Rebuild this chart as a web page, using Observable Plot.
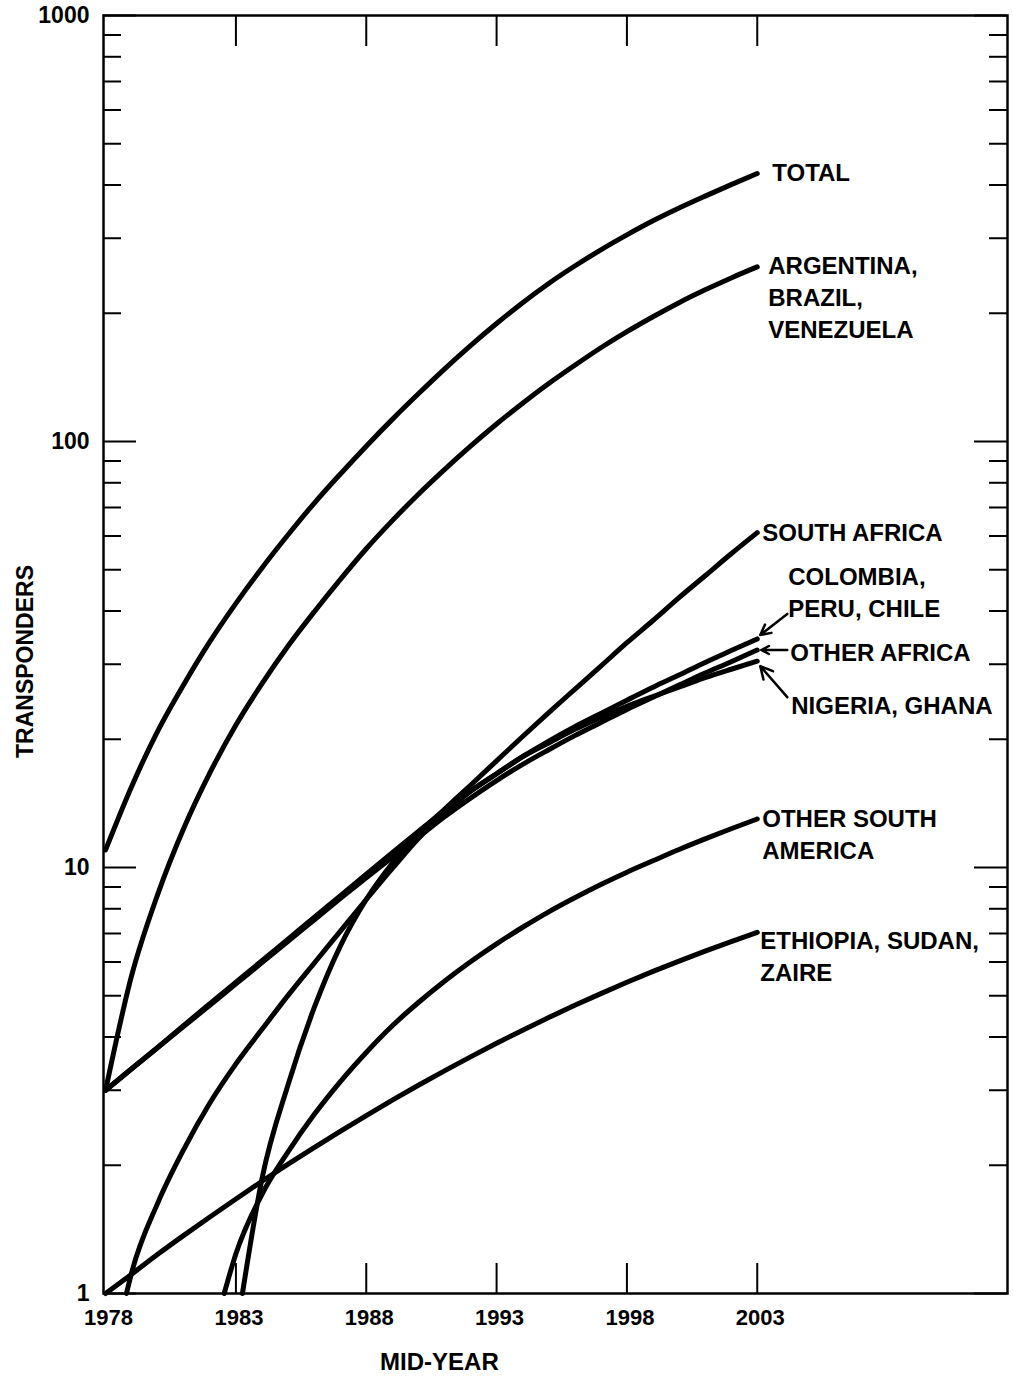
<!DOCTYPE html>
<html>
<head>
<meta charset="utf-8">
<script src="https://cdn.jsdelivr.net/npm/d3@7"></script>
<script src="https://cdn.jsdelivr.net/npm/@observablehq/plot@0.6"></script>
<style>
  body { margin: 0; background: #fff; }
  #chart svg { display: block; }
</style>
</head>
<body>
<div id="chart"></div>
<script>
// ---------------- DATA ----------------
const years = [1978, 1979, 1980, 1981, 1982, 1983, 1984, 1985, 1986, 1987, 1988, 1989, 1990,
               1991, 1992, 1993, 1994, 1995, 1996, 1997, 1998, 1999, 2000, 2001, 2002, 2003];

const total      = [11.0, 15.5, 20.9, 26.9, 33.9, 41.7, 50.5, 60.4, 71.6, 83.8, 97.5, 112.7, 129.4,
                    147.9, 167.9, 189.2, 211.8, 235.0, 258.2, 281.8, 305.5, 329.6, 353.2, 376.7, 400.9, 425.6];
const argBraVen  = [3.0, 5.58, 8.65, 12.36, 16.67, 21.6, 27.0, 33.1, 39.8, 47.4, 56.0, 65.2, 75.2,
                    85.9, 97.5, 109.9, 123.0, 136.8, 151.0, 166.0, 181.1, 196.3, 211.8, 227.0, 242.1, 257.0];
const colPerChi  = [3.0, 3.37, 3.78, 4.26, 4.79, 5.38, 6.04, 6.79, 7.64, 8.57, 9.64, 10.84, 12.16,
                    13.6, 15.1, 16.6, 18.2, 19.8, 21.4, 23.0, 24.7, 26.5, 28.3, 30.3, 32.3, 34.4];
const otherAfr   = [3.0, 3.37, 3.78, 4.24, 4.75, 5.33, 5.98, 6.71, 7.53, 8.45, 9.46, 10.57, 11.78,
                    13.15, 14.55, 16.0, 17.46, 18.9, 20.4, 21.9, 23.5, 25.1, 26.8, 28.6, 30.4, 32.4];
const ethSudZai  = [1.0, 1.11, 1.236, 1.369, 1.512, 1.667, 1.834, 2.012, 2.201, 2.403, 2.617, 2.844, 3.082,
                    3.332, 3.593, 3.867, 4.150, 4.443, 4.747, 5.058, 5.377, 5.702, 6.031, 6.364, 6.701, 7.04];

const nigGhaYears = [1978.8, 1979, 1980, 1981, 1982, 1983, 1984, 1985, 1986, 1987, 1988, 1989, 1990,
                     1991, 1992, 1993, 1994, 1995, 1996, 1997, 1998, 1999, 2000, 2001, 2002, 2003];
const nigGha      = [1.0, 1.12, 1.63, 2.18, 2.8, 3.46, 4.17, 5.01, 5.96, 7.08, 8.41, 9.95, 11.7,
                     13.4, 15.1, 16.6, 18.2, 19.6, 21.1, 22.5, 23.9, 25.2, 26.5, 27.9, 29.2, 30.5];

const southAfrYears = [1983.25, 1984, 1985, 1986, 1987, 1988, 1989, 1990, 1991, 1992, 1993,
                       1994, 1995, 1996, 1997, 1998, 1999, 2000, 2001, 2002, 2003];
const southAfr      = [1.0, 1.86, 3.09, 4.68, 6.53, 8.41, 10.23, 12.02, 13.7, 15.6, 17.8,
                       20.3, 23.1, 26.2, 29.7, 33.7, 38.0, 43.0, 48.4, 54.5, 61.1];

const otherSAYears = [1982.55, 1983, 1984, 1985, 1986, 1987, 1988, 1989, 1990, 1991, 1992, 1993,
                      1994, 1995, 1996, 1997, 1998, 1999, 2000, 2001, 2002, 2003];
const otherSA      = [1.0, 1.24, 1.71, 2.15, 2.63, 3.14, 3.68, 4.25, 4.82, 5.41, 6.01, 6.62,
                      7.24, 7.87, 8.49, 9.12, 9.75, 10.37, 11.02, 11.67, 12.33, 13.0];

const seriesNames = ["TOTAL", "ABV", "SAF", "COL", "OAF", "NIG", "OSA", "ETH"];
const seriesLabels = [
  "TOTAL",
  "ARGENTINA,\nBRAZIL,\nVENEZUELA",
  "SOUTH AFRICA",
  "COLOMBIA,\nPERU, CHILE",
  "OTHER AFRICA",
  "NIGERIA, GHANA",
  "OTHER SOUTH\nAMERICA",
  "ETHIOPIA, SUDAN,\nZAIRE"
];

const xTickYears = [1978, 1983, 1988, 1993, 1998, 2003];
const yMajorTicks = [1, 10, 100, 1000];

// ---------------- TABLE ----------------
const seriesData = {
  TOTAL: [years, total],
  ABV: [years, argBraVen],
  SAF: [southAfrYears, southAfr],
  COL: [years, colPerChi],
  OAF: [years, otherAfr],
  NIG: [nigGhaYears, nigGha],
  OSA: [otherSAYears, otherSA],
  ETH: [years, ethSudZai]
};
const rows = seriesNames.flatMap(s => {
  const [xs, vs] = seriesData[s];
  return xs.map((x, i) => ({series: s, year: x, value: vs[i]}));
});
const endRow = s => {
  const [xs, vs] = seriesData[s];
  return {series: s, year: xs[xs.length - 1], value: vs[vs.length - 1]};
};

// ---------------- LAYOUT ----------------
const W = 1013, H = 1379, ML = 103, MR = 6, MT = 15, MB = 86;
const plotW = W - ML - MR, plotH = H - MT - MB;
const xDomain = [1977.92, 2012.6];
const yDomain = [1, 1000];
const font = "'Liberation Sans', Arial, Helvetica, sans-serif";

const xS = Plot.scale({x: {domain: xDomain, range: [ML, W - MR]}});
const yS = Plot.scale({y: {type: "log", domain: yDomain, range: [H - MB, MT]}});

// label offsets (px) from the end of each series
const labelOffset = {
  TOTAL: [15, -3], ABV: [11, 29], SAF: [5, -2], COL: [31, -48],
  OAF: [33, 1], NIG: [34, 43], OSA: [5, 14], ETH: [3, 22]
};
// arrows: [tail dx, tail dy, head dx, head dy] in px from series end
const arrowOffset = {
  COL: [30, -25, 3, -4],
  OAF: [30, 0, 4, 0],
  NIG: [30, 36, 3, 5]
};

const yMinor = [];
for (const d of [1, 10, 100]) for (let k = 2; k <= 9; k++) yMinor.push(d * k);

const marks = [];

// ticks (inward)
marks.push(Plot.ruleX(xTickYears.slice(1), {stroke: "black", strokeWidth: 2, insetTop: plotH - 30}));
marks.push(Plot.ruleX(xTickYears.slice(1), {stroke: "black", strokeWidth: 2, insetBottom: plotH - 31}));
marks.push(Plot.ruleY(yMinor, {stroke: "black", strokeWidth: 2, insetRight: plotW - 18}));
marks.push(Plot.ruleY(yMajorTicks, {stroke: "black", strokeWidth: 2, insetRight: plotW - 33}));
marks.push(Plot.ruleY(yMinor, {stroke: "black", strokeWidth: 2, insetLeft: plotW - 18}));
marks.push(Plot.ruleY(yMajorTicks, {stroke: "black", strokeWidth: 2, insetLeft: plotW - 33}));

marks.push(Plot.frame({stroke: "black", strokeWidth: 2.5}));

// axes labels
marks.push(Plot.axisX(xTickYears, {tickSize: 0, tickPadding: 16, tickFormat: d => String(d), label: null,
  fontSize: 22, fontWeight: "bold", dx: 3}));
marks.push(Plot.axisY(yMajorTicks, {tickSize: 0, tickPadding: 14, tickFormat: d => String(d), label: null,
  fontSize: 23, fontWeight: "bold"}));

marks.push(Plot.text(["MID-YEAR"], {x: (xTickYears[0] + xTickYears[xTickYears.length - 1]) / 2,
  frameAnchor: "bottom", dy: 76, dx: 8, fontSize: 24, fontWeight: "bold"}));
marks.push(Plot.text(["TRANSPONDERS"], {frameAnchor: "left", textAnchor: "middle", rotate: -90, dx: -78, dy: 7,
  fontSize: 23, fontWeight: "bold"}));

// lines
marks.push(Plot.line(rows, {x: "year", y: "value", z: "series", stroke: "black",
  strokeWidth: 5, curve: "monotone-x", strokeLinecap: "round", strokeLinejoin: "round"}));

// series labels
seriesNames.forEach((s, i) => {
  const [dx, dy] = labelOffset[s];
  marks.push(Plot.text([endRow(s)], {x: "year", y: "value", text: () => seriesLabels[i],
    textAnchor: "start", dx, dy, fontSize: 24, fontWeight: "bold", lineHeight: 1.33, fill: "black"}));
});

// arrows
const arrowRows = Object.keys(arrowOffset).map(s => {
  const e = endRow(s);
  const [tdx, tdy, hdx, hdy] = arrowOffset[s];
  const ex = xS.apply(e.year), ey = yS.apply(e.value);
  return {
    x1: xS.invert(ex + tdx), y1: yS.invert(ey + tdy),
    x2: xS.invert(ex + hdx), y2: yS.invert(ey + hdy)
  };
});
marks.push(Plot.arrow(arrowRows, {x1: "x1", y1: "y1", x2: "x2", y2: "y2", stroke: "black",
  strokeWidth: 2.5, headLength: 11, headAngle: 55}));

const chart = Plot.plot({
  width: W, height: H,
  marginLeft: ML, marginRight: MR, marginTop: MT, marginBottom: MB,
  x: {domain: xDomain},
  y: {type: "log", domain: yDomain},
  style: {fontFamily: font, fontWeight: "bold", fontSize: "22px", color: "black", background: "white"},
  marks
});
document.getElementById("chart").appendChild(chart);
</script>
</body>
</html>
